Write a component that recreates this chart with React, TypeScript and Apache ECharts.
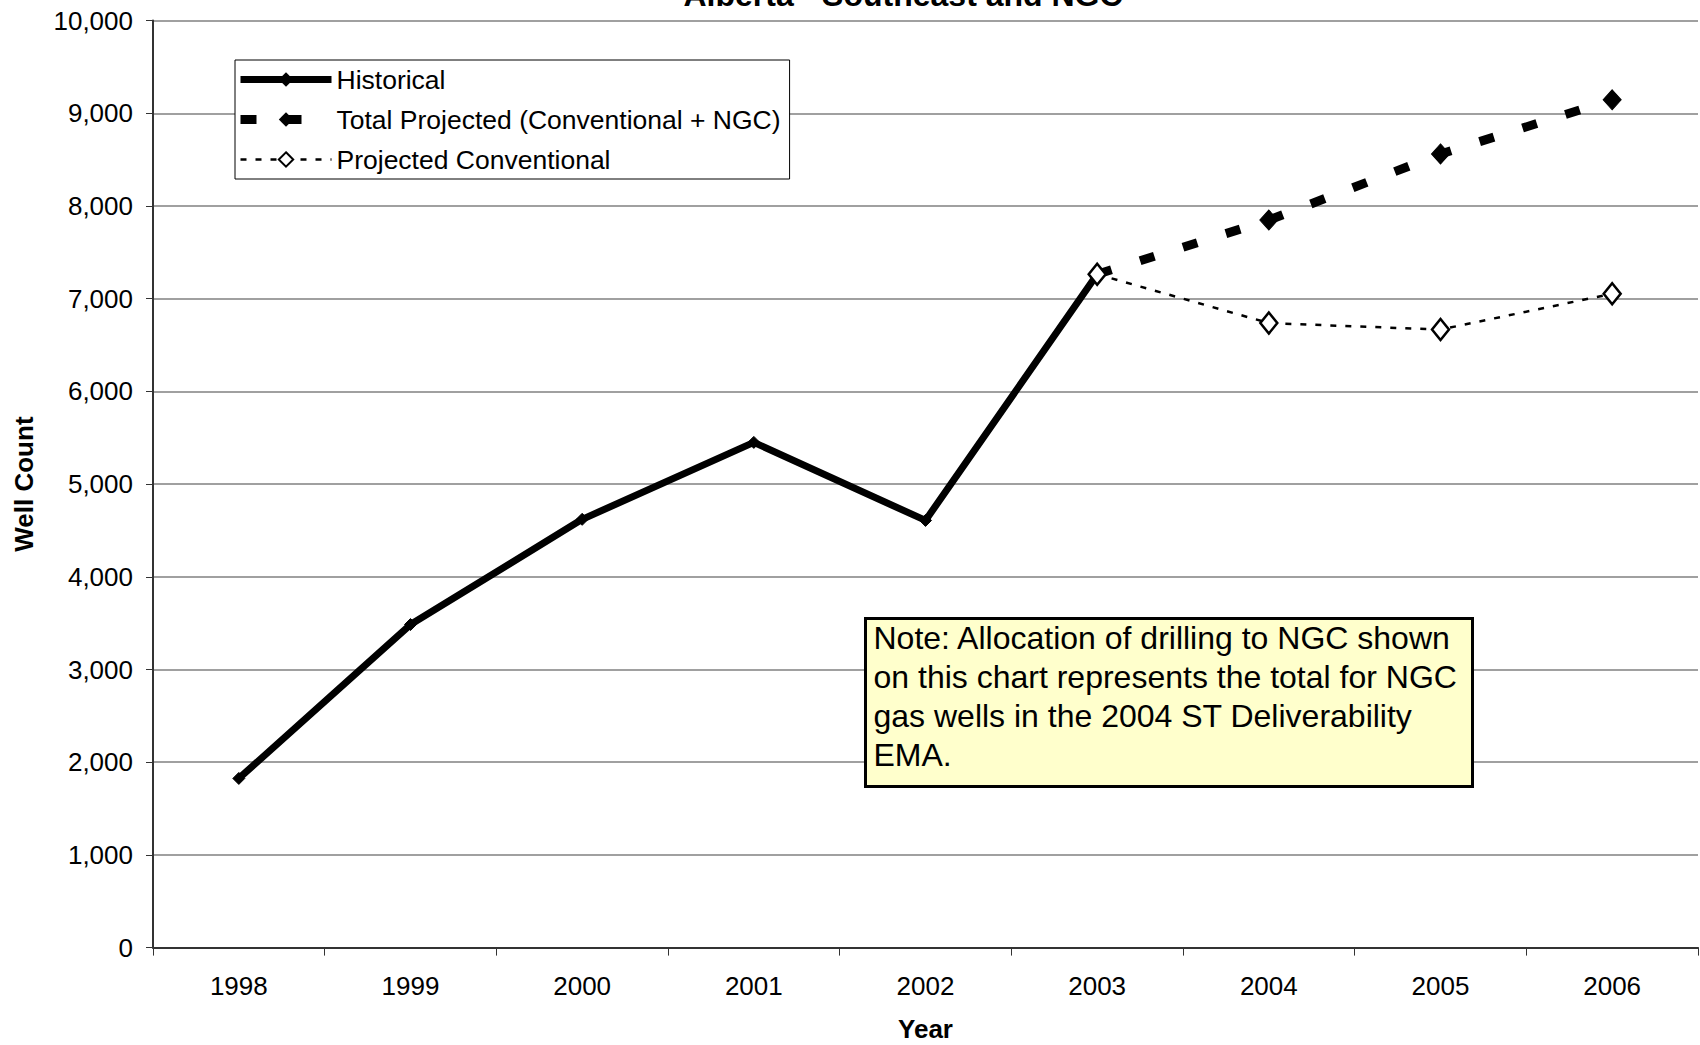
import React, { useEffect, useRef } from "react";
import * as echarts from "echarts";

const years = ["1998", "1999", "2000", "2001", "2002", "2003", "2004", "2005", "2006"];
const historical = [1825, 3485, 4620, 5450, 4608, 7263, null, null, null];
const totalProjected = [null, null, null, null, null, 7263, 7848, 8561, 9146];
const projectedConventional = [null, null, null, null, null, 7263, 6737, 6667, 7053];
const seriesNames = ["Historical", "Total Projected (Conventional + NGC)", "Projected Conventional"];
const titleText = "Alberta - Southeast and NGC";
const noteLines = [
  "Note: Allocation of drilling to NGC shown",
  "on this chart represents the total for NGC",
  "gas wells in the 2004 ST Deliverability",
  "EMA.",
];

const FONT = "'Liberation Sans', Arial, sans-serif";

export default function App() {
  const ref = useRef<HTMLDivElement>(null);
  useEffect(() => {
    if (!ref.current) return;
    const chart = echarts.init(ref.current, undefined, { renderer: "svg" });
    const firstTotal = totalProjected.findIndex((v) => v !== null);
    const lineStyles = [
      { color: "#000", width: 7, type: "solid" as const },
      { color: "#000", width: 9, type: [15, 30], cap: "butt" as const },
      { color: "#000", width: 2.5, type: [6, 9] },
    ];
    const legendTypes = ["solid", [16, 29, 16, 40], [6, 9]];
    chart.setOption({
      animation: false,
      backgroundColor: "#ffffff",
      textStyle: { fontFamily: FONT, color: "#000" },
      title: {
        text: titleText,
        left: 903,
        textAlign: "center",
        top: -21,
        padding: 0,
        textStyle: { fontFamily: FONT, fontSize: 32, fontWeight: "bold", color: "#000" },
      },
      grid: { left: 153, right: 2, top: 20.6, bottom: 97.4, containLabel: false, outerBoundsMode: "none" },
      legend: {
        orient: "vertical",
        left: 235,
        top: 60,
        data: seriesNames.map((n, i) => ({ name: n, lineStyle: { width: lineStyles[i].width, type: legendTypes[i] } })),
        itemWidth: 91,
        itemHeight: 18,
        itemGap: 9,
        padding: [4, 9, 4, 1],
        backgroundColor: "#fff",
        borderColor: "#000",
        borderWidth: 1,
        borderRadius: 0,
        textStyle: { fontFamily: FONT, fontSize: 26.5, color: "#000", lineHeight: 31 },
      },
      xAxis: {
        type: "category",
        data: years,
        boundaryGap: true,
        name: "Year",
        nameLocation: "middle",
        nameGap: 68,
        nameTextStyle: { fontFamily: FONT, fontSize: 26, fontWeight: "bold", color: "#000" },
        axisLine: { lineStyle: { color: "#333", width: 2 } },
        axisTick: { show: true, length: 8, lineStyle: { color: "#333", width: 1 } },
        axisLabel: { fontFamily: FONT, fontSize: 26, color: "#000", margin: 25 },
        splitLine: { show: false },
      },
      yAxis: {
        type: "value",
        min: 0,
        max: 10000,
        interval: 1000,
        name: "Well Count",
        nameLocation: "middle",
        nameRotate: 90,
        nameGap: 116,
        nameTextStyle: { fontFamily: FONT, fontSize: 26, fontWeight: "bold", color: "#000" },
        axisLine: { show: true, lineStyle: { color: "#333", width: 2 } },
        axisTick: { show: true, length: 7, lineStyle: { color: "#333", width: 1 } },
        axisLabel: {
          fontFamily: FONT,
          fontSize: 26,
          color: "#000",
          margin: 20,
          formatter: (v: number) => v.toLocaleString("en-US"),
        },
        splitLine: { show: true, lineStyle: { color: "#808080", width: 1.5 } },
      },
      series: [
        {
          name: seriesNames[0],
          type: "line",
          data: historical,
          connectNulls: false,
          symbol: "diamond",
          symbolSize: 12,
          lineStyle: lineStyles[0],
          itemStyle: { color: "#000", borderColor: "#000" },
          z: 3,
        },
        {
          name: seriesNames[1],
          type: "line",
          data: totalProjected.map((v, i) => (i === firstTotal ? { value: v, symbol: "none" } : v)),
          symbol: "diamond",
          symbolSize: [18, 20],
          lineStyle: lineStyles[1],
          itemStyle: { color: "#000", borderColor: "#000" },
          z: 4,
        },
        {
          name: seriesNames[2],
          type: "line",
          data: projectedConventional,
          symbol: "diamond",
          symbolSize: [17, 21],
          lineStyle: lineStyles[2],
          itemStyle: { color: "#fff", borderColor: "#000", borderWidth: 2.5 },
          z: 5,
        },
      ],
      graphic: [
        {
          type: "group",
          left: 864,
          top: 617,
          z: 100,
          children: [
            {
              type: "rect",
              z: 100,
              shape: { x: 0, y: 0, width: 607, height: 168 },
              style: { fill: "#FFFFCC", stroke: "#000", lineWidth: 3 },
            },
            {
              type: "text",
              z: 101,
              x: 8,
              y: 0,
              style: {
                text: noteLines.join("\n"),
                font: `32px ${FONT}`,
                fill: "#000",
                lineHeight: 39,
                verticalAlign: "top",
                align: "left",
              },
            },
          ],
        },
      ],
    });
    return () => chart.dispose();
  }, []);
  return <div ref={ref} style={{ position: "fixed", left: 0, top: 0, width: 1700, height: 1045 }} />;
}
